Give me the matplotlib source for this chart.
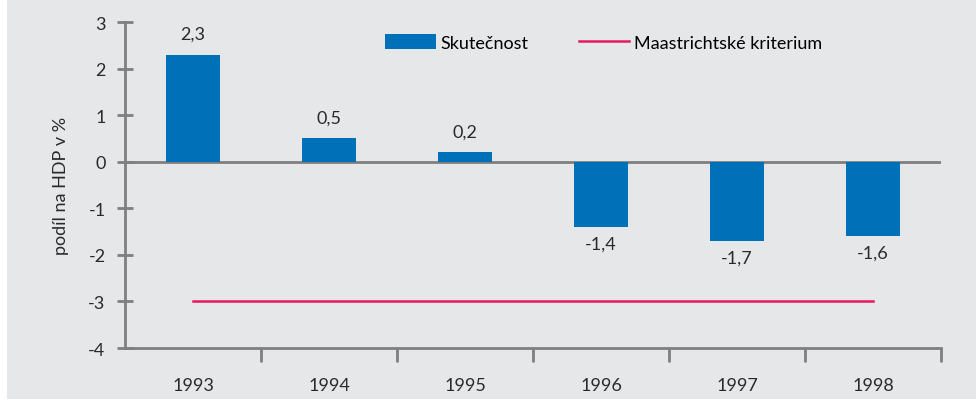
"""
Státní rozpočet 1993-1998: skutečnost vs. maastrichtské kritérium
"""
import matplotlib
matplotlib.use("Agg")
import matplotlib.pyplot as plt
from matplotlib.patches import Rectangle
import numpy as np

years = ["1993", "1994", "1995", "1996", "1997", "1998"]
actual = [2.3, 0.5, 0.2, -1.4, -1.7, -1.6]
criterion = [-3, -3, -3, -3, -3, -3]

bg = "#e6e7e9"
gray = "#7f7f7f"
blue = "#0070b8"
red = "#e8185c"
txtc = "#2a2a2a"

plt.rcParams["font.family"] = ["Lato", "DejaVu Sans"]
plt.rcParams["font.size"] = 13

fig = plt.figure(figsize=(9.76, 4.10), dpi=100)
fig.patch.set_facecolor("white")
fig.patches.append(Rectangle((7 / 976, 10 / 410), 1 - 7 / 976, 1 - 10 / 410,
                             transform=fig.transFigure, facecolor=bg,
                             edgecolor="none", zorder=-10))

ax = fig.add_axes([125 / 976, 61 / 410, 816 / 976, 326 / 410])
ax.set_facecolor("none")

x = np.arange(len(years))
bars = ax.bar(x, actual, width=0.4, color=blue, label="Skutečnost", zorder=3)
line, = ax.plot(x, criterion, color=red, lw=1.8, label="Maastrichtské kriterium", zorder=3)

for xi, v in zip(x, actual):
    txt = f"{v:.1f}".replace(".", ",")
    if v >= 0:
        ax.text(xi, v + 0.28, txt, ha="center", va="bottom", color=txtc)
    else:
        ax.text(xi, v - 0.18, txt, ha="center", va="top", color=txtc)

ax.axhline(0, color=gray, lw=2, zorder=2)

ax.set_xlim(-0.5, 5.5)
ax.set_ylim(-4, 3)
ax.set_yticks(range(-4, 4))
ax.set_yticklabels([str(v) for v in range(-4, 4)])
ax.set_xticks(x)
ax.set_xticklabels(years)
ax.set_xticks(np.arange(0.5, 6, 1), minor=True)

for s in ["top", "right"]:
    ax.spines[s].set_visible(False)
for s in ["left", "bottom"]:
    ax.spines[s].set_color(gray)
    ax.spines[s].set_linewidth(2)

ax.tick_params(axis="y", direction="inout", length=12, width=2, color=gray,
               pad=8, labelcolor=txtc)
ax.tick_params(axis="x", which="major", length=0, pad=21, labelcolor=txtc)
ax.tick_params(axis="x", which="minor", direction="out", length=10, width=2, color=gray)

ax.set_ylabel("podíl na HDP v %", color=txtc, labelpad=14)

ax.legend([bars, line], ["Skutečnost", "Maastrichtské kriterium"],
          loc="upper left", bbox_to_anchor=(0.299, 1.012), ncol=2, frameon=False,
          handlelength=2.8, handleheight=0.9, columnspacing=2.8, handletextpad=0.25)

fig.savefig("out.png", dpi=100)
